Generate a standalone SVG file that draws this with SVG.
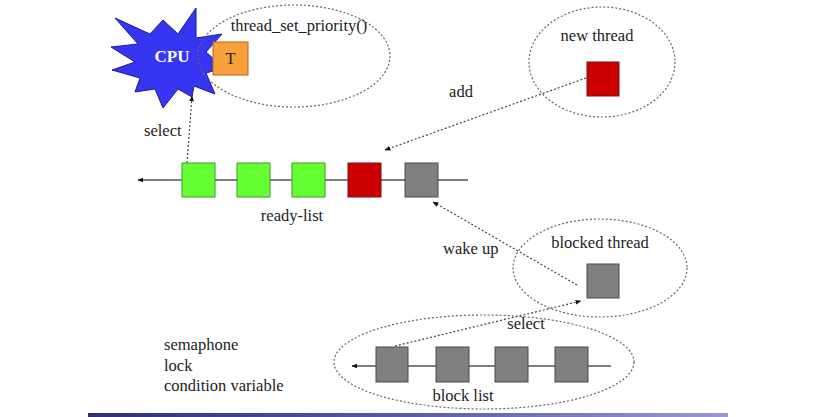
<svg xmlns="http://www.w3.org/2000/svg" width="830" height="417" viewBox="0 0 830 417">
<defs>
<marker id="ah" viewBox="0 0 10 10" refX="9" refY="5" markerWidth="6" markerHeight="6" orient="auto" markerUnits="userSpaceOnUse">
<path d="M0,1 L10,5 L0,9 Z" fill="#111"/>
</marker>
<linearGradient id="bar" x1="0" y1="0" x2="1" y2="0">
<stop offset="0" stop-color="#2e2e70"/>
<stop offset="0.5" stop-color="#5a5aa8"/>
<stop offset="1" stop-color="#9a9ad0"/>
</linearGradient>
</defs>
<style>
text{font-family:"Liberation Serif","Times New Roman",serif;font-size:16.5px;fill:#222}
.dash{fill:none;stroke:#666;stroke-width:1.2;stroke-dasharray:2 2}
.link{fill:none;stroke:#444;stroke-width:1.2;stroke-dasharray:2 2}
.list{stroke:#555;stroke-width:1.3;fill:none}
.g{fill:#66ff33;stroke:#3e9a2c;stroke-width:1}
.r{fill:#cc0000;stroke:#7a1010;stroke-width:1}
.k{fill:#808080;stroke:#4a4a4a;stroke-width:1}
</style>
<rect width="830" height="417" fill="#ffffff"/>
<rect x="88" y="413" width="640" height="4" fill="url(#bar)"/>

<g id="connectors">
<line class="list" x1="468" y1="180" x2="138" y2="180" marker-end="url(#ah)"/>
<line class="list" x1="611" y1="366" x2="352" y2="366" marker-end="url(#ah)"/>
<line class="link" x1="187" y1="163" x2="192" y2="96" marker-end="url(#ah)"/>
<line class="link" x1="586" y1="78" x2="385" y2="150" marker-end="url(#ah)"/>
<line class="link" x1="577" y1="285" x2="433" y2="202" marker-end="url(#ah)"/>
<line class="link" x1="395" y1="346" x2="581" y2="301" marker-end="url(#ah)"/>
</g>

<g id="cpu">
<polygon points="115,18 150,34 163,20 178,34 196,8 196,38 222,34 206,52 224,68 206,73 215,94 194,86 192,97 178,89 163,108 155,89 135,92 140,78 112,70 135,62 111,47 138,44" fill="#3535f2" stroke="#1c1c9a" stroke-width="1"/>
<text x="172" y="62" text-anchor="middle" style="fill:#fff;font-weight:bold;font-size:17px">CPU</text>
</g>

<g id="priority">
<ellipse class="dash" cx="294" cy="56" rx="96" ry="51"/>
<text x="299" y="31" text-anchor="middle">thread_set_priority()</text>
</g>

<g id="running-thread">
<rect x="213" y="42" width="35" height="33" fill="#f7a03c" stroke="#b5651a" stroke-width="1"/>
<text x="230.5" y="64" text-anchor="middle">T</text>
</g>

<g id="new-thread">
<ellipse class="dash" cx="602" cy="62" rx="73" ry="55"/>
<text x="597" y="41" text-anchor="middle">new thread</text>
<rect class="r" x="587" y="62" width="32" height="34"/>
</g>

<g id="ready-list">
<rect class="g" x="182" y="163" width="33" height="34"/>
<rect class="g" x="237" y="163" width="33" height="34"/>
<rect class="g" x="292" y="163" width="33" height="34"/>
<rect class="r" x="348" y="163" width="33" height="34"/>
<rect class="k" x="405" y="163" width="33" height="34"/>
<text x="292" y="221" text-anchor="middle">ready-list</text>
</g>

<g id="blocked-thread">
<ellipse class="dash" cx="600" cy="268" rx="87" ry="49"/>
<text x="600" y="248" text-anchor="middle">blocked thread</text>
<rect class="k" x="587" y="264" width="32" height="34"/>
</g>

<g id="block-list">
<ellipse class="dash" cx="484" cy="362" rx="150" ry="47"/>
<rect class="k" x="376" y="347" width="32" height="35"/>
<rect class="k" x="436" y="347" width="33" height="35"/>
<rect class="k" x="495" y="347" width="33" height="35"/>
<rect class="k" x="555" y="347" width="33" height="35"/>
<text x="463" y="401" text-anchor="middle">block list</text>
</g>

<g id="labels">
<text x="461" y="97" text-anchor="middle">add</text>
<text x="144" y="136">select</text>
<text x="443" y="254">wake up</text>
<text x="526" y="329" text-anchor="middle">select</text>
<text x="164" y="350">semaphone</text>
<text x="164" y="371">lock</text>
<text x="164" y="391">condition variable</text>
</g>
</svg>
